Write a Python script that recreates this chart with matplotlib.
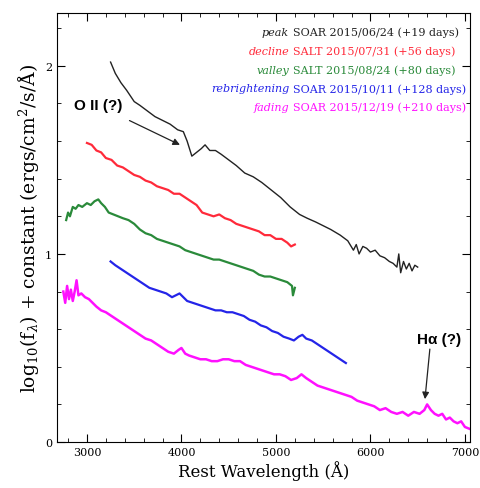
import numpy as np
import matplotlib
matplotlib.use('Agg')
from matplotlib import pyplot as plt
from matplotlib.ticker import MultipleLocator

plt.rcParams['font.family'] = ['DejaVu Serif']
plt.rcParams['mathtext.fontset'] = 'dejavuserif'

# peak
wl_peak = [3250, 3300, 3360, 3420, 3500, 3560, 3640, 3720, 3800, 3880,
           3960, 4020, 4060, 4110, 4160, 4210, 4250, 4300, 4360, 4420,
           4500, 4580, 4670, 4760, 4850, 4950, 5050, 5150, 5250, 5330,
           5420, 5500, 5580, 5680, 5760, 5820, 5850, 5880, 5920, 5960,
           6000, 6050, 6100, 6150, 6200, 6240, 6280, 6300, 6320, 6350,
           6380, 6410, 6440, 6470, 6500]
fl_peak = [2.02, 1.96, 1.91, 1.87, 1.81, 1.79, 1.76, 1.73, 1.71, 1.69,
           1.66, 1.65, 1.60, 1.52, 1.54, 1.56, 1.58, 1.55, 1.55, 1.53,
           1.50, 1.47, 1.43, 1.41, 1.38, 1.34, 1.30, 1.25, 1.21, 1.19,
           1.17, 1.15, 1.13, 1.10, 1.07, 1.02, 1.05, 1.00, 1.04, 1.03,
           1.01, 1.02, 0.99, 0.98, 0.96, 0.95, 0.93, 1.00, 0.90, 0.96,
           0.92, 0.95, 0.91, 0.94, 0.93]

# decline
wl_decl = [3000, 3050, 3100, 3150, 3200, 3260, 3320, 3380, 3440, 3500,
           3560, 3620, 3680, 3740, 3800, 3860, 3920, 3980, 4040, 4100,
           4160, 4220, 4280, 4340, 4400, 4460, 4520, 4580, 4640, 4700,
           4760, 4820, 4880, 4940, 5000, 5060, 5120, 5160, 5200]
fl_decl = [1.59, 1.58, 1.55, 1.54, 1.51, 1.50, 1.47, 1.46, 1.44, 1.42,
           1.41, 1.39, 1.38, 1.36, 1.35, 1.34, 1.32, 1.32, 1.30, 1.28,
           1.26, 1.22, 1.21, 1.20, 1.21, 1.19, 1.18, 1.16, 1.15, 1.14,
           1.13, 1.12, 1.10, 1.10, 1.08, 1.08, 1.06, 1.04, 1.05]

# valley
wl_vall = [2780, 2800, 2820, 2850, 2880, 2910, 2950, 3000, 3040, 3080,
           3120, 3150, 3190, 3230, 3280, 3330, 3380, 3440, 3500, 3560,
           3620, 3680, 3740, 3800, 3860, 3920, 3980, 4040, 4100, 4160,
           4220, 4280, 4340, 4400, 4460, 4520, 4580, 4640, 4700, 4760,
           4820, 4880, 4940, 5000, 5060, 5120, 5170, 5180, 5200]
fl_vall = [1.18, 1.22, 1.20, 1.25, 1.24, 1.26, 1.25, 1.27, 1.26, 1.28,
           1.29, 1.27, 1.25, 1.22, 1.21, 1.20, 1.19, 1.18, 1.16, 1.13,
           1.11, 1.10, 1.08, 1.07, 1.06, 1.05, 1.04, 1.02, 1.01, 1.00,
           0.99, 0.98, 0.97, 0.97, 0.96, 0.95, 0.94, 0.93, 0.92, 0.91,
           0.89, 0.88, 0.88, 0.87, 0.86, 0.85, 0.83, 0.78, 0.82]

# rebrightening
wl_rebr = [3250, 3300, 3360, 3420, 3480, 3540, 3600, 3660, 3720, 3780,
           3840, 3900, 3940, 3980, 4020, 4060, 4120, 4180, 4240, 4300,
           4360, 4420, 4480, 4540, 4600, 4660, 4720, 4780, 4840, 4900,
           4960, 5020, 5080, 5140, 5190, 5240, 5280, 5320, 5380, 5440,
           5500, 5560, 5620, 5680, 5740]
fl_rebr = [0.96, 0.94, 0.92, 0.90, 0.88, 0.86, 0.84, 0.82, 0.81, 0.80,
           0.79, 0.77, 0.78, 0.79, 0.77, 0.75, 0.74, 0.73, 0.72, 0.71,
           0.70, 0.70, 0.69, 0.69, 0.68, 0.67, 0.65, 0.64, 0.62, 0.61,
           0.59, 0.58, 0.56, 0.55, 0.54, 0.56, 0.57, 0.55, 0.54, 0.52,
           0.50, 0.48, 0.46, 0.44, 0.42]

# fading
wl_fade = [2750, 2770, 2790, 2810, 2830, 2850, 2870, 2890, 2910, 2940,
           2980, 3020, 3060, 3100, 3150, 3200, 3260, 3320, 3380, 3440,
           3500, 3560, 3620, 3680, 3740, 3800, 3860, 3920, 3970, 4000,
           4040, 4080, 4140, 4200, 4260, 4320, 4380, 4440, 4500, 4560,
           4620, 4680, 4740, 4800, 4860, 4920, 4980, 5040, 5100, 5160,
           5220, 5270, 5320, 5380, 5440, 5500, 5560, 5620, 5680, 5740,
           5800, 5860, 5920, 5980, 6040, 6100, 6160, 6220, 6280, 6340,
           6400, 6460, 6520, 6570, 6600, 6640, 6680, 6720, 6760, 6800,
           6840, 6880, 6920, 6960, 7000, 7050]
fl_fade = [0.80, 0.74, 0.83, 0.76, 0.81, 0.75, 0.80, 0.86, 0.78, 0.79,
           0.77, 0.76, 0.74, 0.72, 0.70, 0.69, 0.67, 0.65, 0.63, 0.61,
           0.59, 0.57, 0.55, 0.54, 0.52, 0.50, 0.48, 0.47, 0.49, 0.50,
           0.47, 0.46, 0.45, 0.44, 0.44, 0.43, 0.43, 0.44, 0.44, 0.43,
           0.43, 0.41, 0.40, 0.39, 0.38, 0.37, 0.36, 0.36, 0.35, 0.33,
           0.34, 0.36, 0.34, 0.32, 0.30, 0.29, 0.28, 0.27, 0.26, 0.25,
           0.24, 0.22, 0.21, 0.20, 0.19, 0.17, 0.18, 0.16, 0.15, 0.16,
           0.14, 0.16, 0.15, 0.17, 0.20, 0.17, 0.15, 0.14, 0.15, 0.12,
           0.13, 0.11, 0.10, 0.11, 0.08, 0.07]

phases = ['peak', 'decline', 'valley', 'rebrightening', 'fading']
obs = ['SOAR 2015/06/24 (+19 days)', 'SALT 2015/07/31 (+56 days)',
       'SALT 2015/08/24 (+80 days)', 'SOAR 2015/10/11 (+128 days)',
       'SOAR 2015/12/19 (+210 days)']
colors = ['#222222', '#ff2a3a', '#2a8a3a', '#2424e8', '#ff10ff']
spectra = [(wl_peak, fl_peak), (wl_decl, fl_decl), (wl_vall, fl_vall),
           (wl_rebr, fl_rebr), (wl_fade, fl_fade)]

fig = plt.figure(figsize=(4.81, 4.89), dpi=100)
ax = fig.add_axes([0.1185, 0.094, 0.8585, 0.877])

for (w, f), c, lw in zip(spectra, colors, [1.0, 1.6, 1.6, 1.6, 1.8]):
    ax.plot(w, f, color=c, lw=lw)

ax.set_xlim(2683, 7053)
ax.set_ylim(0, 2.28)
ax.xaxis.set_major_locator(MultipleLocator(1000))
ax.xaxis.set_minor_locator(MultipleLocator(200))
ax.yaxis.set_major_locator(MultipleLocator(1))
ax.yaxis.set_minor_locator(MultipleLocator(0.2))
ax.tick_params(which='both', direction='in', top=True, right=True, labelsize=8)
ax.tick_params(which='major', length=6)
ax.tick_params(which='minor', length=3)

ax.set_xlabel('Rest Wavelength (Å)', fontsize=12, labelpad=2)
ax.set_ylabel(r'log$_{10}$(f$_{\lambda}$) + constant (ergs/cm$^2$/s/Å)',
              fontsize=13.5, labelpad=3)

for i in range(5):
    yy = 0.956 - i * 0.0437
    ax.text(0.562, yy, phases[i], transform=ax.transAxes, ha='right', va='center',
            style='italic', color=colors[i], fontsize=8)
    ax.text(0.572, yy, obs[i], transform=ax.transAxes, ha='left', va='center',
            color=colors[i], fontsize=8)

ax.annotate('O II (?)', xy=(3984, 1.58), xytext=(3116, 1.79),
            ha='center', va='center', fontsize=11, fontweight='bold',
            family=['Liberation Sans', 'DejaVu Sans'],
            arrowprops=dict(arrowstyle='-|>', color='#222222', lw=0.9,
                            shrinkA=9, shrinkB=0, mutation_scale=10))
ax.annotate('H\u03b1 (?)', xy=(6577, 0.228), xytext=(6725, 0.546),
            ha='center', va='center', fontsize=11, fontweight='bold',
            family=['Liberation Sans', 'DejaVu Sans'],
            arrowprops=dict(arrowstyle='-|>', color='#222222', lw=0.9,
                            shrinkA=0, shrinkB=0, mutation_scale=10,
                            relpos=(0.3, 0)))

fig.savefig('out.png', dpi=100)
